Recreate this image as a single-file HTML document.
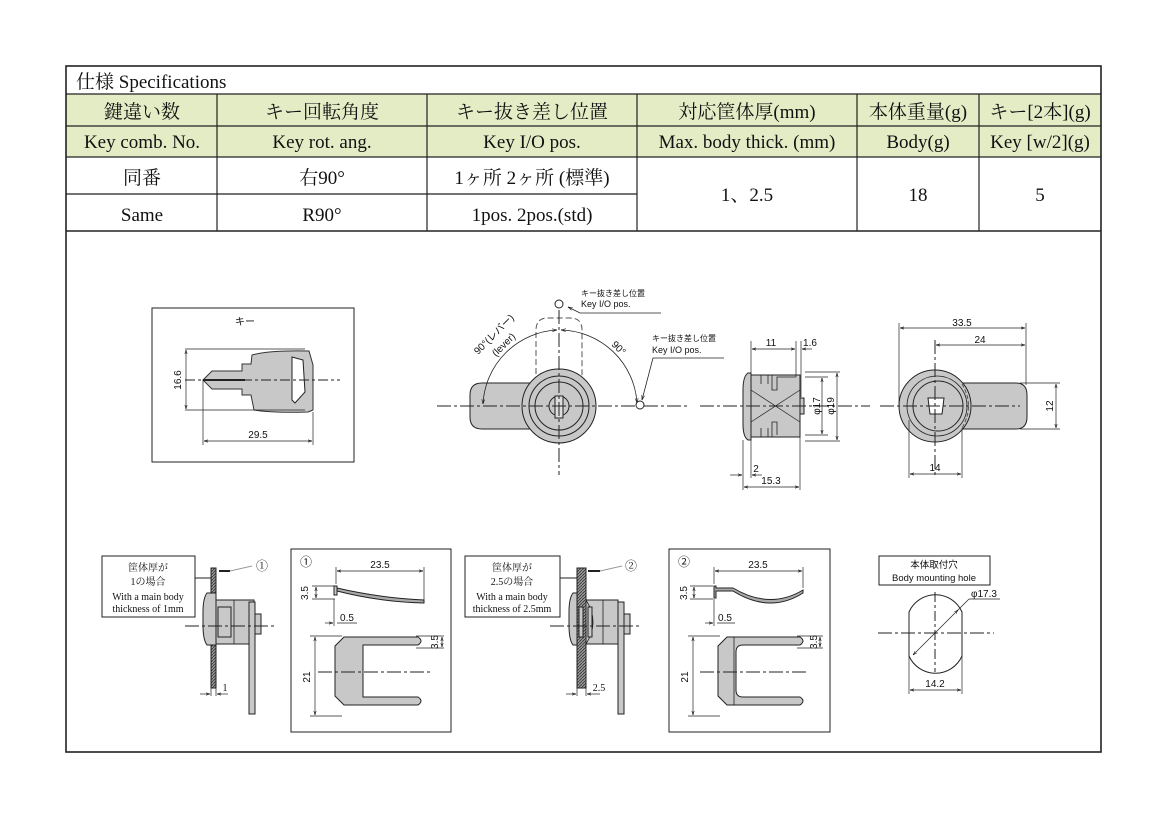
<!DOCTYPE html>
<html><head><meta charset="utf-8"><style>
html,body{margin:0;padding:0;background:#fff;}
svg{display:block;}
.t{font-family:"Liberation Serif","Noto Serif CJK JP",serif;fill:#111;}
.s{font-family:"Liberation Sans","Noto Sans CJK JP",sans-serif;fill:#111;}
</style></head><body>
<svg width="1168" height="818" viewBox="0 0 1168 818" xmlns="http://www.w3.org/2000/svg">
<defs>
<marker id="a" viewBox="0 0 10 10" refX="10" refY="5" markerWidth="6" markerHeight="6" orient="auto-start-reverse"><path d="M0,2 L10,5 L0,8" fill="none" stroke="#111" stroke-width="1.2"/></marker>
<pattern id="h" width="3" height="3" patternUnits="userSpaceOnUse"><rect width="3" height="3" fill="#999"/><path d="M0,3 L3,0" stroke="#333" stroke-width="0.8"/></pattern>
</defs>
<rect x="0" y="0" width="1168" height="818" fill="#fff"/>
<!-- table -->
<rect x="66" y="94" width="1035" height="63" fill="#e4ecc6"/>
<g stroke="#222" stroke-width="1.2" fill="none">
<rect x="66" y="66" width="1035" height="686" stroke-width="1.6"/>
<line x1="66" y1="94" x2="1101" y2="94"/>
<line x1="66" y1="126" x2="1101" y2="126"/>
<line x1="66" y1="157" x2="1101" y2="157"/>
<line x1="66" y1="194" x2="637" y2="194"/>
<line x1="66" y1="231" x2="1101" y2="231" stroke-width="1.6"/>
<line x1="217" y1="94" x2="217" y2="231"/>
<line x1="427" y1="94" x2="427" y2="231"/>
<line x1="637" y1="94" x2="637" y2="231"/>
<line x1="857" y1="94" x2="857" y2="231"/>
<line x1="979" y1="94" x2="979" y2="231"/>
</g>
<g class="t" font-size="19" text-anchor="middle">
<text x="76" y="88" text-anchor="start">仕様 Specifications</text>
<text x="142" y="118">鍵違い数</text><text x="322" y="118">キー回転角度</text><text x="532" y="118">キー抜き差し位置</text><text x="747" y="118">対応筐体厚(mm)</text><text x="918" y="118">本体重量(g)</text><text x="1040" y="118">キー[2本](g)</text>
<text x="142" y="148">Key comb. No.</text><text x="322" y="148">Key rot. ang.</text><text x="532" y="148">Key I/O pos.</text><text x="747" y="148">Max. body thick. (mm)</text><text x="918" y="148">Body(g)</text><text x="1040" y="148">Key [w/2](g)</text>
<text x="142" y="184">同番</text><text x="322" y="184">右90°</text><text x="532" y="184">1ヶ所 2ヶ所 (標準)</text>
<text x="142" y="221">Same</text><text x="322" y="221">R90°</text><text x="532" y="221">1pos. 2pos.(std)</text>
<text x="747" y="201">1、2.5</text><text x="918" y="201">18</text><text x="1040" y="201">5</text>
</g>

<!-- key box -->
<g stroke="#222" stroke-width="1" fill="none">
<rect x="152" y="308" width="202" height="154"/>
<path d="M203,380 L212,371 L242,371 L242,364 L251,364 L252,355 Q270,350 309,351 L313,365 L313,410 L308,412 Q270,413 254,410 L251,395 L242,395 L242,389 L212,389 Z" fill="#c8c8c8" stroke="#333"/>
<path d="M292,357 L303,360 L305,392 L295,403 L292,400 Z" fill="#fff"/>
<line x1="203" y1="380" x2="245" y2="380" stroke-width="2"/>
<line x1="185" y1="380" x2="340" y2="380" stroke-dasharray="10,3,3,3"/>
<line x1="185" y1="349" x2="305" y2="349" stroke-width="0.7"/>
<line x1="185" y1="410" x2="305" y2="410" stroke-width="0.7"/>
<line x1="186" y1="350" x2="186" y2="409" marker-start="url(#a)" marker-end="url(#a)" stroke-width="0.7"/>
<line x1="203" y1="380" x2="203" y2="445" stroke-width="0.7"/>
<line x1="313" y1="412" x2="313" y2="445" stroke-width="0.7"/>
<line x1="204" y1="441" x2="312" y2="441" marker-start="url(#a)" marker-end="url(#a)" stroke-width="0.7"/>
</g>
<g class="s" font-size="10" text-anchor="middle">
<text x="245" y="325">キー</text>
<text x="258" y="438">29.5</text>
<text transform="translate(181,380) rotate(-90)">16.6</text>
</g>

<!-- front view -->
<g stroke="#222" stroke-width="1" fill="none">
<path d="M559,383 L482,383 Q470,383 470,395 L470,417 Q470,429 482,429 L559,429" fill="#c8c8c8"/>
<path d="M536,383 L536,330 Q536,318 548,318 L570,318 Q582,318 582,330 L582,383" stroke-dasharray="6,3" stroke="#555"/>
<circle cx="559" cy="406" r="37" fill="#c8c8c8"/>
<circle cx="559" cy="406" r="30"/>
<circle cx="559" cy="406" r="24"/>
<circle cx="559" cy="406" r="10"/>
<rect x="555" y="396" width="8" height="22" fill="#ddd"/>
<line x1="437" y1="406" x2="690" y2="406" stroke-dasharray="14,3,3,3"/>
<line x1="559" y1="310" x2="559" y2="475" stroke-dasharray="14,3,3,3"/>
<circle cx="559" cy="304" r="4" fill="#fff"/>
<circle cx="640" cy="405" r="4" fill="#fff"/>
<path d="M483,404 A78,78 0 0 1 557,330" marker-start="url(#a)" marker-end="url(#a)" stroke-width="0.8"/>
<path d="M561,330 A78,78 0 0 1 637,403" marker-start="url(#a)" marker-end="url(#a)" stroke-width="0.8"/>
<path d="M661,313 L580,313 L568,307" stroke-width="0.8" marker-end="url(#a)"/>
<path d="M724,358 L653,358 L642,400" stroke-width="0.8" marker-end="url(#a)"/>
</g>
<g class="s" font-size="9">
<text x="581" y="296" font-size="8">キー抜き差し位置</text>
<text x="581" y="307">Key I/O pos.</text>
<text x="652" y="341" font-size="8">キー抜き差し位置</text>
<text x="652" y="353">Key I/O pos.</text>
<text transform="translate(478,355) rotate(-45)" font-size="10">90°(レバー)</text>
<text transform="translate(496,357) rotate(-45)" font-size="10">(lever)</text>
<text transform="translate(611,345) rotate(45)" font-size="10">90°</text>
</g>

<!-- side view -->
<g stroke="#222" stroke-width="1" fill="none">
<path d="M748,373 Q743,376 743,390 L743,424 Q743,437 748,440 L751,440 L751,373 Z" fill="#c8c8c8"/>
<path d="M751,375 L800,375 L800,437 L751,437 Z" fill="#c8c8c8"/>
<rect x="800" y="398" width="4" height="16" fill="#c8c8c8"/>
<path d="M761,375 L761,384 M768,375 L768,384 M772,375 L772,390 L777,390 L777,377 L796,377 M761,437 L761,428 M768,437 L768,428 M772,437 L772,422 L777,422 L777,435" stroke-width="0.8"/>
<line x1="751" y1="390" x2="800" y2="422" stroke-width="0.7"/>
<line x1="751" y1="422" x2="800" y2="390" stroke-width="0.7"/>
<line x1="700" y1="406" x2="870" y2="406" stroke-dasharray="14,3,3,3"/>
<line x1="751" y1="341" x2="751" y2="373" stroke-width="0.7"/>
<line x1="796" y1="341" x2="796" y2="377" stroke-width="0.7"/>
<line x1="801" y1="341" x2="801" y2="397" stroke-width="0.7"/>
<line x1="752" y1="349" x2="795" y2="349" marker-start="url(#a)" marker-end="url(#a)" stroke-width="0.7"/>
<line x1="812" y1="349" x2="802" y2="349" marker-end="url(#a)" stroke-width="0.7"/>
<line x1="805" y1="372" x2="840" y2="372" stroke-width="0.7"/>
<line x1="805" y1="441" x2="840" y2="441" stroke-width="0.7"/>
<line x1="805" y1="377" x2="828" y2="377" stroke-width="0.7"/>
<line x1="805" y1="435" x2="828" y2="435" stroke-width="0.7"/>
<line x1="822" y1="378" x2="822" y2="434" marker-start="url(#a)" marker-end="url(#a)" stroke-width="0.7"/>
<line x1="837" y1="373" x2="837" y2="440" marker-start="url(#a)" marker-end="url(#a)" stroke-width="0.7"/>
<line x1="743" y1="440" x2="743" y2="490" stroke-width="0.7"/>
<line x1="751" y1="440" x2="751" y2="478" stroke-width="0.7"/>
<line x1="800" y1="437" x2="800" y2="490" stroke-width="0.7"/>
<line x1="730" y1="475" x2="742" y2="475" marker-end="url(#a)" stroke-width="0.7"/>
<line x1="762" y1="475" x2="752" y2="475" marker-end="url(#a)" stroke-width="0.7"/>
<line x1="744" y1="487" x2="799" y2="487" marker-start="url(#a)" marker-end="url(#a)" stroke-width="0.7"/>
</g>
<g class="s" font-size="10" text-anchor="middle">
<text x="771" y="346">11</text><text x="810" y="346">1.6</text>
<text x="756" y="472">2</text><text x="771" y="484">15.3</text>
<text transform="translate(820,406) rotate(-90)">φ17</text>
<text transform="translate(834,406) rotate(-90)">φ19</text>
</g>

<!-- rear view -->
<g stroke="#222" stroke-width="1" fill="none">
<path d="M935,383 L1016,383 Q1027,383 1027,395 L1027,417 Q1027,429 1016,429 L935,429" fill="#c8c8c8"/>
<circle cx="935" cy="406" r="36" fill="#c8c8c8"/>
<circle cx="937" cy="406" r="30" stroke-width="0.8"/>
<circle cx="938" cy="406" r="25"/>
<path d="M928,398 L944,398 L942,414 L930,414 Z" fill="#fff"/>
<path d="M962,384 Q975,406 962,428" stroke-dasharray="4,2" stroke="#555"/>
<line x1="880" y1="406" x2="1020" y2="406" stroke-dasharray="14,3,3,3"/>
<line x1="935" y1="340" x2="935" y2="478" stroke-dasharray="14,3,3,3"/>
<line x1="899" y1="323" x2="899" y2="404" stroke-width="0.7"/>
<line x1="1026" y1="323" x2="1026" y2="385" stroke-width="0.7"/>
<line x1="900" y1="328" x2="1025" y2="328" marker-start="url(#a)" marker-end="url(#a)" stroke-width="0.7"/>
<line x1="936" y1="345" x2="1025" y2="345" marker-start="url(#a)" marker-end="url(#a)" stroke-width="0.7"/>
<line x1="1020" y1="383" x2="1060" y2="383" stroke-width="0.7"/>
<line x1="1020" y1="429" x2="1060" y2="429" stroke-width="0.7"/>
<line x1="1056" y1="384" x2="1056" y2="428" marker-start="url(#a)" marker-end="url(#a)" stroke-width="0.7"/>
<line x1="909" y1="420" x2="909" y2="478" stroke-width="0.7"/>
<line x1="962" y1="428" x2="962" y2="478" stroke-width="0.7"/>
<line x1="910" y1="474" x2="961" y2="474" marker-start="url(#a)" marker-end="url(#a)" stroke-width="0.7"/>
</g>
<g class="s" font-size="10" text-anchor="middle">
<text x="962" y="326">33.5</text><text x="980" y="343">24</text><text x="935" y="471">14</text>
<text transform="translate(1053,406) rotate(-90)">12</text>
</g>

<!-- bottom section 1 -->
<g stroke="#222" stroke-width="1" fill="none">
<rect x="102" y="556" width="93" height="61" fill="#fff"/>
<rect x="211" y="568" width="5" height="120" fill="url(#h)"/>
<path d="M207,593 L216,593 L216,645 L207,645 Q203,640 203,625 L203,612 Q203,598 207,593 Z" fill="#c8c8c8"/>
<rect x="216" y="600" width="38" height="44" fill="#c8c8c8"/>
<rect x="218" y="607" width="13" height="30" fill="#c8c8c8"/>
<line x1="234" y1="600" x2="234" y2="644" stroke-width="0.8"/>
<rect x="249" y="602" width="6" height="112" fill="#c8c8c8"/>
<rect x="255" y="614" width="6" height="20" fill="#c8c8c8"/>
<line x1="185" y1="626" x2="276" y2="626" stroke-dasharray="14,3,3,3"/>
<line x1="219" y1="571" x2="230" y2="571" stroke-width="2"/>
<line x1="230" y1="571" x2="252" y2="566" stroke="#999"/>
<line x1="195" y1="578" x2="211" y2="578"/>
<line x1="211" y1="688" x2="211" y2="696" stroke-width="0.7"/>
<line x1="216" y1="688" x2="216" y2="696" stroke-width="0.7"/>
<line x1="200" y1="694" x2="210" y2="694" marker-end="url(#a)" stroke-width="0.7"/>
<line x1="228" y1="694" x2="217" y2="694" marker-end="url(#a)" stroke-width="0.7"/>
<rect x="291" y="549" width="160" height="183"/>
<path d="M337,588 Q380,598 424,600 L424,603 Q380,602 337,591 Z" fill="#aaa"/>
<rect x="334" y="586" width="3" height="9" fill="#c8c8c8"/>
<path d="M344,637 L418,637 Q424,641 418,645 L363,645 L363,697 L418,697 Q424,701 418,705 L344,705 L335,696 L335,646 Z" fill="#c8c8c8"/>
<line x1="318" y1="672" x2="433" y2="672" stroke-dasharray="14,3,3,3"/>
<line x1="336" y1="567" x2="336" y2="584" stroke-width="0.7"/>
<line x1="424" y1="567" x2="424" y2="600" stroke-width="0.7"/>
<line x1="337" y1="571" x2="423" y2="571" marker-start="url(#a)" marker-end="url(#a)" stroke-width="0.7"/>
<line x1="312" y1="586" x2="335" y2="586" stroke-width="0.7"/>
<line x1="312" y1="599" x2="335" y2="599" stroke-width="0.7"/>
<line x1="316" y1="587" x2="316" y2="598" marker-start="url(#a)" marker-end="url(#a)" stroke-width="0.7"/>
<line x1="334" y1="599" x2="334" y2="626" stroke-width="0.7"/>
<line x1="325" y1="623" x2="333" y2="623" marker-end="url(#a)" stroke-width="0.7"/>
<line x1="337" y1="623" x2="357" y2="623" stroke-width="0.7"/>
<line x1="310" y1="636" x2="342" y2="636" stroke-width="0.7"/>
<line x1="310" y1="716" x2="342" y2="716" stroke-width="0.7"/>
<line x1="315" y1="637" x2="315" y2="715" marker-start="url(#a)" marker-end="url(#a)" stroke-width="0.7"/>
<line x1="416" y1="636" x2="444" y2="636" stroke-width="0.7"/>
<line x1="416" y1="648" x2="444" y2="648" stroke-width="0.7"/>
<line x1="442" y1="637" x2="442" y2="647" marker-start="url(#a)" marker-end="url(#a)" stroke-width="0.7"/>
</g>
<g class="t" font-size="10" text-anchor="middle">
<text x="148" y="571">筐体厚が</text><text x="148" y="585">1の場合</text>
<text x="148" y="600">With a main body</text><text x="148" y="612">thickness of 1mm</text>
<text x="262" y="570" font-size="12">①</text>
<text x="225" y="691">1</text>
</g>
<g class="s" font-size="10" text-anchor="middle">
<text x="306" y="566" font-size="12">①</text>
<text x="380" y="568">23.5</text><text x="347" y="621">0.5</text>
<text transform="translate(308,593) rotate(-90)">3.5</text>
<text transform="translate(310,677) rotate(-90)">21</text>
<text transform="translate(438,642) rotate(-90)">3.5</text>
</g>

<!-- bottom section 2 -->
<g stroke="#222" stroke-width="1" fill="none">
<rect x="465" y="556" width="95" height="61" fill="#fff"/>
<rect x="577" y="568" width="9" height="120" fill="url(#h)"/>
<path d="M573,593 L577,593 L577,645 L573,645 Q569,640 569,625 L569,612 Q569,598 573,593 Z" fill="#c8c8c8"/>
<rect x="586" y="600" width="32" height="44" fill="#c8c8c8"/>
<path d="M586,600 Q600,622 586,644" stroke-width="0.8"/>
<rect x="579" y="607" width="4" height="30" fill="#c8c8c8"/>
<rect x="588" y="607" width="4" height="30" fill="#c8c8c8"/>
<line x1="603" y1="600" x2="603" y2="644" stroke-width="0.8"/>
<rect x="618" y="602" width="6" height="112" fill="#c8c8c8"/>
<rect x="624" y="614" width="6" height="20" fill="#c8c8c8"/>
<line x1="550" y1="626" x2="642" y2="626" stroke-dasharray="14,3,3,3"/>
<line x1="588" y1="571" x2="600" y2="571" stroke-width="2"/>
<line x1="600" y1="571" x2="622" y2="566" stroke="#999"/>
<line x1="560" y1="578" x2="577" y2="578"/>
<line x1="577" y1="688" x2="577" y2="696" stroke-width="0.7"/>
<line x1="586" y1="688" x2="586" y2="696" stroke-width="0.7"/>
<line x1="566" y1="694" x2="576" y2="694" marker-end="url(#a)" stroke-width="0.7"/>
<line x1="600" y1="694" x2="587" y2="694" marker-end="url(#a)" stroke-width="0.7"/>
<rect x="669" y="549" width="161" height="183"/>
<path d="M714,586 L716,586 L716,588 L733,588 Q770,610 803,590 L803,593 Q770,614 733,591 L716,591 L716,598 L714,598 Z" fill="#aaa"/>
<path d="M727,637 L800,637 Q806,641 800,645 L743,645 Q736,645 736,652 L736,690 Q736,697 743,697 L800,697 Q806,701 800,705 L727,705 L718,696 L718,646 Z" fill="#c8c8c8"/>
<line x1="734" y1="637" x2="734" y2="705" stroke-width="0.8"/>
<line x1="700" y1="672" x2="808" y2="672" stroke-dasharray="14,3,3,3"/>
<line x1="714" y1="567" x2="714" y2="584" stroke-width="0.7"/>
<line x1="803" y1="567" x2="803" y2="588" stroke-width="0.7"/>
<line x1="715" y1="571" x2="802" y2="571" marker-start="url(#a)" marker-end="url(#a)" stroke-width="0.7"/>
<line x1="690" y1="586" x2="713" y2="586" stroke-width="0.7"/>
<line x1="690" y1="599" x2="713" y2="599" stroke-width="0.7"/>
<line x1="694" y1="587" x2="694" y2="598" marker-start="url(#a)" marker-end="url(#a)" stroke-width="0.7"/>
<line x1="714" y1="599" x2="714" y2="626" stroke-width="0.7"/>
<line x1="705" y1="623" x2="713" y2="623" marker-end="url(#a)" stroke-width="0.7"/>
<line x1="717" y1="623" x2="735" y2="623" stroke-width="0.7"/>
<line x1="688" y1="636" x2="720" y2="636" stroke-width="0.7"/>
<line x1="688" y1="716" x2="720" y2="716" stroke-width="0.7"/>
<line x1="693" y1="637" x2="693" y2="715" marker-start="url(#a)" marker-end="url(#a)" stroke-width="0.7"/>
<line x1="797" y1="636" x2="823" y2="636" stroke-width="0.7"/>
<line x1="797" y1="648" x2="823" y2="648" stroke-width="0.7"/>
<line x1="820" y1="637" x2="820" y2="647" marker-start="url(#a)" marker-end="url(#a)" stroke-width="0.7"/>
</g>
<g class="t" font-size="10" text-anchor="middle">
<text x="512" y="571">筐体厚が</text><text x="512" y="585">2.5の場合</text>
<text x="512" y="600">With a main body</text><text x="512" y="612">thickness of 2.5mm</text>
<text x="631" y="570" font-size="12">②</text>
<text x="599" y="691">2.5</text>
</g>
<g class="s" font-size="10" text-anchor="middle">
<text x="684" y="566" font-size="12">②</text>
<text x="758" y="568">23.5</text><text x="725" y="621">0.5</text>
<text transform="translate(687,593) rotate(-90)">3.5</text>
<text transform="translate(688,677) rotate(-90)">21</text>
<text transform="translate(817,642) rotate(-90)">3.5</text>
</g>

<!-- mounting hole -->
<g stroke="#222" stroke-width="1" fill="none">
<rect x="879" y="556" width="111" height="29"/>
<path d="M909,612 A29,29 0 0 1 962,612 L962,656 A29,29 0 0 1 909,656 Z"/>
<line x1="878" y1="633" x2="994" y2="633" stroke-dasharray="14,3,3,3"/>
<line x1="935" y1="592" x2="935" y2="672" stroke-dasharray="10,3,3,3"/>
<line x1="913" y1="655" x2="958" y2="610" marker-start="url(#a)" marker-end="url(#a)" stroke-width="0.7"/>
<line x1="958" y1="610" x2="969" y2="599" stroke-width="0.7"/>
<line x1="969" y1="599" x2="1000" y2="599" stroke-width="0.7"/>
<line x1="909" y1="656" x2="909" y2="694" stroke-width="0.7"/>
<line x1="962" y1="656" x2="962" y2="694" stroke-width="0.7"/>
<line x1="910" y1="690" x2="961" y2="690" marker-start="url(#a)" marker-end="url(#a)" stroke-width="0.7"/>
</g>
<g class="s" font-size="9.5" text-anchor="middle">
<text x="934" y="568">本体取付穴</text><text x="934" y="581">Body mounting hole</text>
<text x="984" y="597" font-size="10">φ17.3</text>
<text x="935" y="687" font-size="10">14.2</text>
</g>
</svg>
</body></html>
